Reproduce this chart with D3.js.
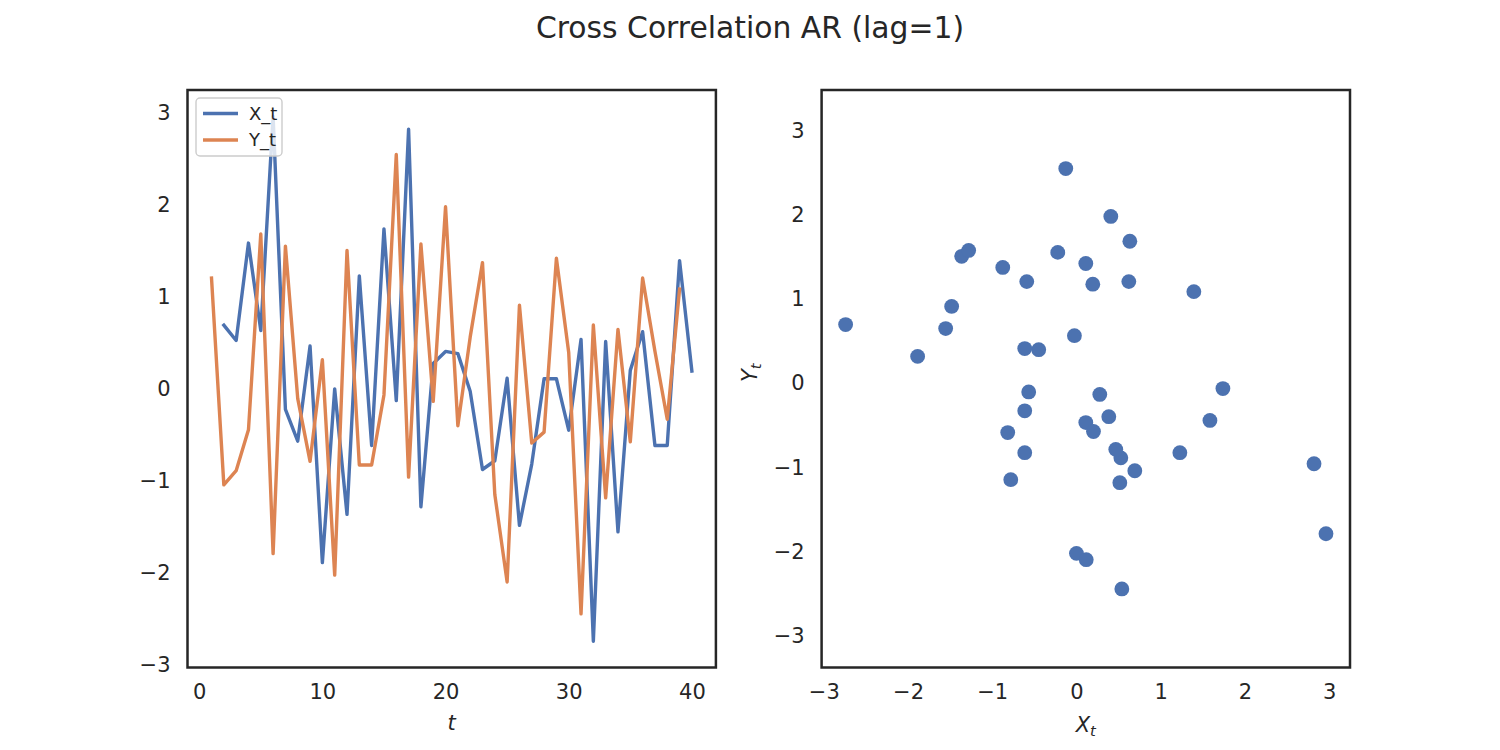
<!DOCTYPE html>
<html>
<head>
<meta charset="utf-8">
<script src="https://cdn.jsdelivr.net/npm/d3@7"></script>
<style>
  html, body { margin: 0; padding: 0; background: #ffffff; }
  svg { display: block; font-family: "DejaVu Sans", sans-serif; }
</style>
</head>
<body>
<svg id="chart" width="1500" height="750"></svg>
<script>
// ---------------- data ----------------
const timeSteps = d3.range(1, 41);               // t = 1..40
const xSeries = [
  -0.590, 0.693, 0.527, 1.585, 0.634, 2.963, -0.222, -0.567, 0.467, -1.886,
   0.000, -1.363, 1.228, -0.614, 1.739, -0.127, 2.821, -1.280, 0.277, 0.408,
   0.384, -0.024, -0.875, -0.780, 0.116, -1.482, -0.816, 0.111, 0.111, -0.448,
   0.539, -2.741, 0.515, -1.553, 0.202, 0.622, -0.614, -0.614, 1.394, 0.194
];
const ySeries = [
   1.205, -1.041, -0.888, -0.443, 1.684, -1.789, 1.552, -0.105, -0.787, 0.317,
  -2.022, 1.505, -0.826, -0.826, -0.065, 2.547, -0.958, 1.575, -0.135, 1.979,
  -0.399, 0.563, 1.373, -1.147, -2.097, 0.910, -0.588, -0.469, 1.420, 0.397,
  -2.444, 0.695, -1.183, 0.647, -0.575, 1.205, 0.410, -0.329, 1.086, 1.174
];
const seriesNames = ["X_t", "Y_t"];
const seriesColors = ["#4c72b0", "#dd8452"];
const leftXTicks = [0, 10, 20, 30, 40];
const leftYTicks = [-3, -2, -1, 0, 1, 2, 3];
const rightXTicks = [-3, -2, -1, 0, 1, 2, 3];
const rightYTicks = [-3, -2, -1, 0, 1, 2, 3];
const titleText = "Cross Correlation AR (lag=1)";

// line plot shows X_t for t=2..40 and Y_t for t=1..39
const lineX = timeSteps.map((t, i) => ({t, v: xSeries[i]})).filter(d => d.t >= 2);
const lineY = timeSteps.map((t, i) => ({t, v: ySeries[i]})).filter(d => d.t <= 39);
const scatterPts = xSeries.map((x, i) => ({x, y: ySeries[i]}));

// ---------------- layout ----------------
const svg = d3.select("#chart");
const textColor = "#262626";
const tickFont = 21, labelFont = 21;
const axTop = 90, axBottom = 667.5;
const leftBox = {x0: 187.5, x1: 715.9};
const rightBox = {x0: 821.6, x1: 1350};
const lineW = 3.4, frameW = 2.5;
const minusFmt = d => d < 0 ? "\u2212" + Math.abs(d) : String(d);

function padDomain(vals) {
  const [mn, mx] = d3.extent(vals);
  const p = 0.05 * (mx - mn);
  return [mn - p, mx + p];
}
function styleAxis(g) {
  g.attr("font-size", tickFont).attr("font-family", "DejaVu Sans, sans-serif");
  g.selectAll(".domain").remove();
  g.selectAll(".tick text").style("font-size", tickFont + "px").attr("fill", textColor);
}

// ---------------- left: line plot ----------------
const lx = d3.scaleLinear().domain(padDomain(timeSteps))
  .range([leftBox.x0, leftBox.x1]);
const ly = d3.scaleLinear().domain(padDomain(lineX.map(d => d.v).concat(lineY.map(d => d.v))))
  .range([axBottom, axTop]);

const gL = svg.append("g");
gL.append("rect").attr("x", leftBox.x0).attr("y", axTop)
  .attr("width", leftBox.x1 - leftBox.x0).attr("height", axBottom - axTop).attr("fill", "#fff");

const lineGen = d3.line().x(d => lx(d.t)).y(d => ly(d.v));
[lineX, lineY].forEach((data, i) => {
  gL.append("path").datum(data).attr("d", lineGen)
    .attr("fill", "none").attr("stroke", seriesColors[i])
    .attr("stroke-width", lineW).attr("stroke-linejoin", "round").attr("stroke-linecap", "square");
});

gL.append("g").attr("transform", `translate(0,${axBottom})`)
  .call(d3.axisBottom(lx).tickValues(leftXTicks).tickSize(0).tickPadding(17).tickFormat(minusFmt))
  .call(styleAxis);
gL.append("g").attr("transform", `translate(${leftBox.x0},0)`)
  .call(d3.axisLeft(ly).tickValues(leftYTicks).tickSize(0).tickPadding(17).tickFormat(minusFmt))
  .call(styleAxis);

// legend
const leg = gL.append("g");
leg.append("rect").attr("x", 196).attr("y", 98).attr("width", 86).attr("height", 58)
  .attr("rx", 4).attr("fill", "rgba(255,255,255,0.8)").attr("stroke", "#cccccc").attr("stroke-width", 1.4);
seriesNames.forEach((name, i) => {
  const yy = 113.5 + i * 26.5;
  leg.append("line").attr("x1", 203).attr("x2", 238).attr("y1", yy).attr("y2", yy)
    .attr("stroke", seriesColors[i]).attr("stroke-width", lineW);
  leg.append("text").attr("x", 249).attr("y", yy).attr("dy", "0.36em")
    .style("font-size", "18px").attr("fill", textColor).text(name);
});

// frame
gL.append("rect").attr("x", leftBox.x0).attr("y", axTop)
  .attr("width", leftBox.x1 - leftBox.x0).attr("height", axBottom - axTop)
  .attr("fill", "none").attr("stroke", textColor).attr("stroke-width", frameW);

gL.append("text").attr("x", (leftBox.x0 + leftBox.x1) / 2).attr("y", 730)
  .attr("text-anchor", "middle").style("font-size", labelFont + "px").attr("font-style", "italic")
  .attr("fill", textColor).text("t");

// ---------------- right: scatter ----------------
const rxDom = padDomain(xSeries);
const ryRaw = padDomain(ySeries);
const rw = rightBox.x1 - rightBox.x0, rh = axBottom - axTop;
const ySpan = (rxDom[1] - rxDom[0]) * rh / rw;      // equal aspect
const yC = (ryRaw[0] + ryRaw[1]) / 2;
const rx = d3.scaleLinear().domain(rxDom).range([rightBox.x0, rightBox.x1]);
const ry = d3.scaleLinear().domain([yC - ySpan / 2, yC + ySpan / 2]).range([axBottom, axTop]);

const gR = svg.append("g");
gR.append("rect").attr("x", rightBox.x0).attr("y", axTop)
  .attr("width", rw).attr("height", rh).attr("fill", "#fff");
gR.selectAll("circle").data(scatterPts).join("circle")
  .attr("cx", d => rx(d.x)).attr("cy", d => ry(d.y)).attr("r", 7.4)
  .attr("fill", seriesColors[0]);

gR.append("g").attr("transform", `translate(0,${axBottom})`)
  .call(d3.axisBottom(rx).tickValues(rightXTicks).tickSize(0).tickPadding(17).tickFormat(minusFmt))
  .call(styleAxis);
gR.append("g").attr("transform", `translate(${rightBox.x0},0)`)
  .call(d3.axisLeft(ry).tickValues(rightYTicks).tickSize(0).tickPadding(17).tickFormat(minusFmt))
  .call(styleAxis);

gR.append("rect").attr("x", rightBox.x0).attr("y", axTop)
  .attr("width", rw).attr("height", rh)
  .attr("fill", "none").attr("stroke", textColor).attr("stroke-width", frameW);

const xl = gR.append("text").attr("x", (rightBox.x0 + rightBox.x1) / 2).attr("y", 732)
  .attr("text-anchor", "middle").style("font-size", labelFont + "px").attr("fill", textColor);
xl.append("tspan").attr("font-style", "italic").text("X");
xl.append("tspan").attr("font-style", "italic").style("font-size", (labelFont * 0.7) + "px").attr("dy", 4).text("t");

const yl = gR.append("text").attr("transform", `translate(757,${(axTop + axBottom) / 2 - 6}) rotate(-90)`)
  .attr("text-anchor", "middle").style("font-size", labelFont + "px").attr("fill", textColor);
yl.append("tspan").attr("font-style", "italic").text("Y");
yl.append("tspan").attr("font-style", "italic").style("font-size", (labelFont * 0.7) + "px").attr("dy", 4).text("t");

svg.append("text").attr("x", 750).attr("y", 38).attr("text-anchor", "middle")
  .style("font-size", "29.8px").attr("fill", textColor).text(titleText);
</script>
</body>
</html>
